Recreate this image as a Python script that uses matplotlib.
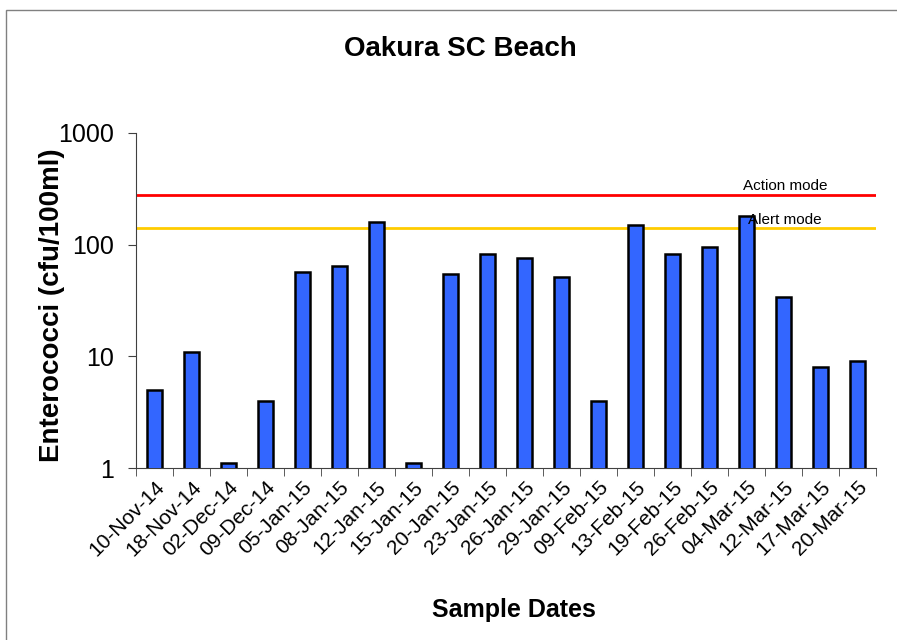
import matplotlib.pyplot as plt
from matplotlib.patches import Rectangle

plt.rcParams['font.family'] = ['Liberation Sans', 'DejaVu Sans']

# Sample dates and enterococci counts
dates = ["10-Nov-14", "18-Nov-14", "02-Dec-14", "09-Dec-14", "05-Jan-15", "08-Jan-15",
         "12-Jan-15", "15-Jan-15", "20-Jan-15", "23-Jan-15", "26-Jan-15", "29-Jan-15",
         "09-Feb-15", "13-Feb-15", "19-Feb-15", "26-Feb-15", "04-Mar-15", "12-Mar-15",
         "17-Mar-15", "20-Mar-15"]
counts = [5, 11, 1.1, 4, 57, 64, 160, 1.1, 55, 83, 76, 51, 4, 150, 83, 96, 180, 34, 8, 9]

action_level = 280
alert_level = 140

fig = plt.figure(figsize=(8.97, 6.4), dpi=100)
ax = fig.add_axes([136 / 897, 1 - 468 / 640, 740 / 897, 335 / 640])

# thin border around the chart area
fig.patches.append(Rectangle((6 / 897, -0.1), 1.2, 1 - 10 / 640 + 0.1,
                             transform=fig.transFigure, fill=False,
                             edgecolor='#808080', linewidth=1))

x = list(range(len(dates)))
ax.bar(x, counts, width=0.4, bottom=0, color='#3366ff', edgecolor='black',
       linewidth=1.8, zorder=3)

ax.set_yscale('log')
ax.set_ylim(1, 1000)
ax.set_xlim(-0.5, len(dates) - 0.5)

ax.axhline(action_level, color='#ff0000', linewidth=2, zorder=2)
ax.axhline(alert_level, color='#ffcc00', linewidth=2, zorder=2)
ax.text(15.9, action_level * 1.03, "Action mode", fontsize=11, va='bottom', zorder=4)
ax.text(16.05, alert_level * 1.02, "Alert mode", fontsize=11, va='bottom', zorder=4)

ax.set_yticks([1, 10, 100, 1000])
ax.set_yticklabels(["1", "10", "100", "1000"], fontsize=18)
ax.yaxis.set_minor_locator(plt.NullLocator())

ax.set_xticks(x)
ax.set_xticklabels(dates, rotation=45, ha='right', rotation_mode='anchor', fontsize=15)
ax.tick_params(axis='x', length=0, pad=7)
# tick marks between categories
ax.set_xticks([i - 0.5 for i in range(len(dates) + 1)], minor=True)
ax.tick_params(axis='x', which='minor', length=6, color='#404040')
ax.tick_params(axis='y', length=6, color='#404040', pad=10)

for side in ['top', 'right']:
    ax.spines[side].set_visible(False)
ax.spines['left'].set_color('#404040')
ax.spines['bottom'].set_color('#404040')

fig.text(460 / 897, 1 - 49 / 640, "Oakura SC Beach", fontsize=20, fontweight='bold',
         ha='center', va='center')
fig.text(514 / 897, 1 - 610 / 640, "Sample Dates", fontsize=18, fontweight='bold',
         ha='center', va='center')
fig.text(52 / 897, 1 - 305 / 640, "Enterococci (cfu/100ml)", fontsize=20,
         fontweight='bold', rotation=90, ha='center', va='center')

fig.savefig("out.png", dpi=100)
